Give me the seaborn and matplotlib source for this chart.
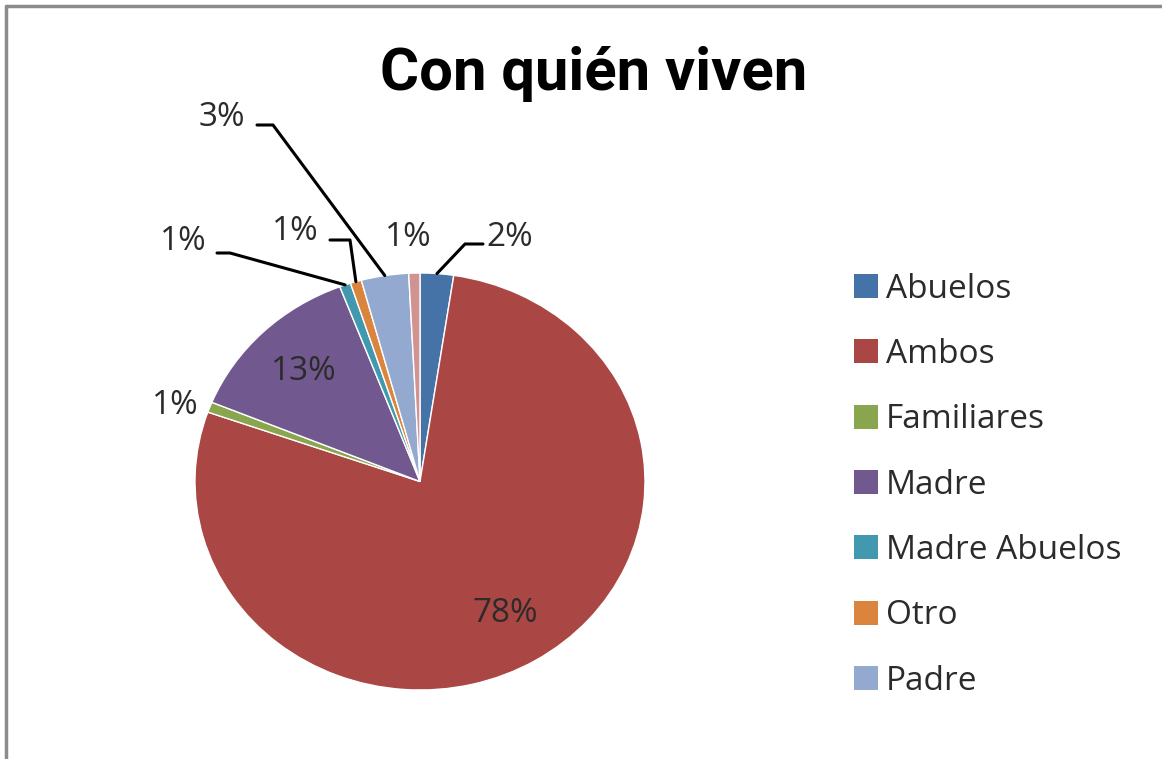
import numpy as np
import matplotlib.pyplot as plt
import seaborn as sns
from matplotlib.patches import Patch
from matplotlib.lines import Line2D

# ==========================================================
# Datos
# ==========================================================
categorias = ['Abuelos', 'Ambos', 'Familiares', 'Madre', 'Madre Abuelos', 'Otro', 'Padre', 'Tíos']
porcentajes = [2.4, 78.0, 0.8, 13.0, 0.8, 0.8, 3.4, 0.8]
etiquetas = ['2%', '78%', '1%', '13%', '1%', '1%', '3%', '1%']
n_leyenda = 7  # la leyenda del original sólo muestra las 7 primeras

colores = sns.color_palette(['#4572A7', '#AA4643', '#89A54E', '#71588F',
                             '#4198AF', '#DB843D', '#93A9CF', '#D19392'])

# ==========================================================
# Estilo
# ==========================================================
sns.set_theme(style='white')
plt.rcParams['font.family'] = ['Open Sans', 'DejaVu Sans']

W, H = 1162, 759
fig = plt.figure(figsize=(W / 100, H / 100), dpi=100)

# centro y radios del pastel (en píxeles)
cx, cy, rx, ry = 420, 481.5, 225, 208.5

def px(x, y):
    return (x - cx) / rx, (cy - y) / ry

ax = fig.add_axes([(cx - rx) / W, (H - cy - ry) / H, 2 * rx / W, 2 * ry / H])
wedges, _ = ax.pie(porcentajes, colors=colores, startangle=90, counterclock=False,
                   wedgeprops=dict(edgecolor='white', linewidth=1))
ax.set_aspect('auto')
ax.set_xlim(-1, 1)
ax.set_ylim(-1, 1)
for w in wedges:
    w.set_clip_on(False)

color_txt = '#2b2b2b'
tam = 24

# etiquetas: texto, codo, fin de la línea guía (px)
guia = {
    0: ((510, 237), (465, 244), (483, 244)),
    2: ((175, 405), None, None),
    4: ((183, 242), (230, 253), (217, 253)),
    5: ((295, 232), (350, 240), (330, 240)),
    6: ((222, 118), (273, 125), (257, 125)),
    7: ((408, 237), None, None),
}

for i, w in enumerate(wedges):
    ang = np.deg2rad((w.theta1 + w.theta2) / 2)
    if i in guia:
        txt, codo, fin = guia[i]
        tx, ty = px(*txt)
        if codo is not None:
            xs = [np.cos(ang), px(*codo)[0], px(*fin)[0]]
            ys = [np.sin(ang), px(*codo)[1], px(*fin)[1]]
            ax.plot(xs, ys, color='black', lw=2.2, clip_on=False)
    else:
        tx, ty = 0.74 * np.cos(ang), 0.74 * np.sin(ang)
    ax.text(tx, ty, etiquetas[i], ha='center', va='center', fontsize=tam,
            color=color_txt, clip_on=False)

# título
fig.text(594 / W, 1 - 74 / H, 'Con quién viven', ha='center', va='center',
         fontsize=43, fontweight='bold', color='black',
         family=['Roboto', 'DejaVu Sans'])

# leyenda
handles = [Patch(facecolor=colores[i], edgecolor='none') for i in range(n_leyenda)]
fig.legend(handles, categorias[:n_leyenda], loc='upper left',
           bbox_to_anchor=(837 / W, 1 - 256 / H), bbox_transform=fig.transFigure,
           frameon=False, borderpad=0, handletextpad=0.25, labelspacing=0.97,
           handlelength=0.72, handleheight=0.72, fontsize=tam,
           labelcolor=color_txt)

# marco gris (arriba e izquierda)
fig.add_artist(Line2D([6 / W, 6 / W], [0, 1 - 6 / H], color='#8c8c8c', lw=2.5,
                      transform=fig.transFigure))
fig.add_artist(Line2D([6 / W, 1], [1 - 6 / H, 1 - 6 / H], color='#8c8c8c', lw=2.5,
                      transform=fig.transFigure))

fig.savefig('out.png', dpi=100)
